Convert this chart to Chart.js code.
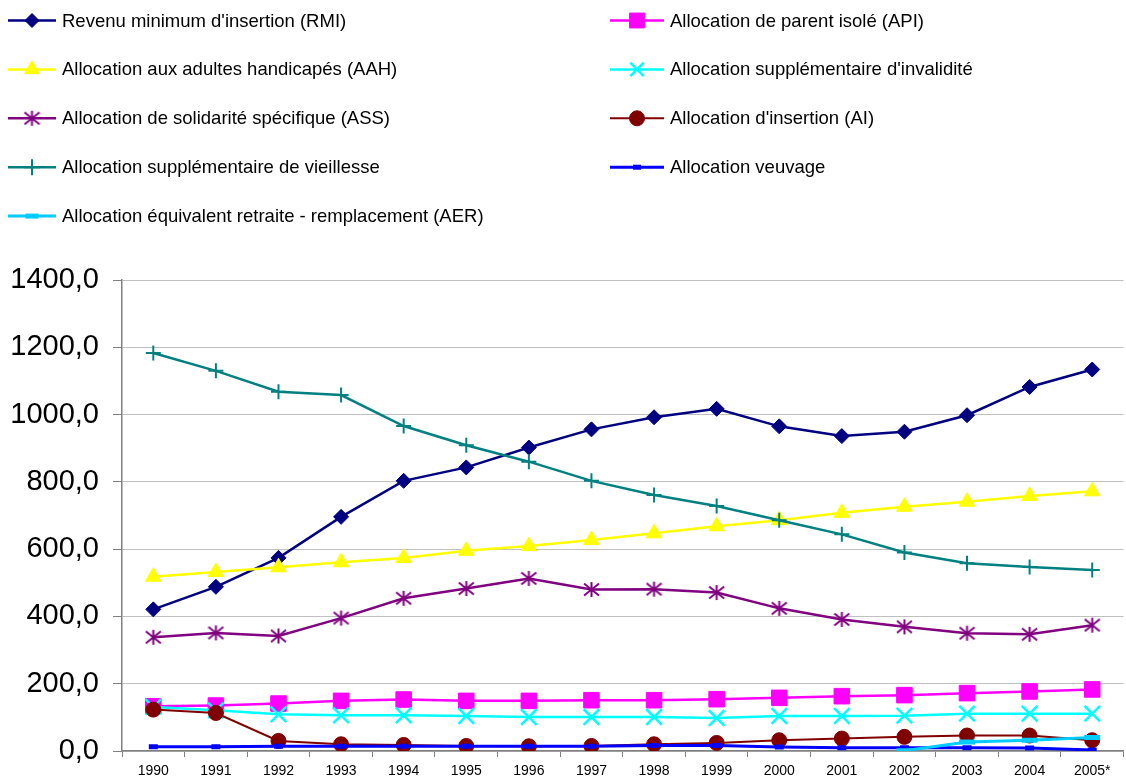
<!DOCTYPE html>
<html>
<head>
<meta charset="utf-8">
<script src="https://cdn.jsdelivr.net/npm/chart.js@4.4.0/dist/chart.umd.min.js"></script>
<style>
  html, body { margin: 0; padding: 0; background: #fff; overflow: hidden; }
  #wrap { width: 1137px; height: 780px; position: relative; }
</style>
</head>
<body>
<div id="wrap"><canvas id="chart"></canvas></div>
<script>
// valeurs (milliers d'allocataires)
const years = ['1990', '1991', '1992', '1993', '1994', '1995', '1996', '1997',
  '1998', '1999', '2000', '2001', '2002', '2003', '2004', '2005*'];
const rmi = [421, 488, 574, 696, 803, 843, 902, 956, 992, 1017, 965, 936, 949, 998, 1082, 1134];
const api = [133, 135, 141, 149, 153, 149, 149, 151, 151, 154, 158, 163, 166, 172, 177, 183];
const aah = [518, 532, 546, 561, 574, 595, 609, 627, 647, 668, 686, 708, 726, 741, 758, 772];
const asi = [131, 121, 109, 106, 106, 104, 101, 101, 101, 98, 104, 104, 105, 111, 111, 111];
const ass = [338, 351, 342, 395, 454, 483, 513, 480, 481, 471, 424, 391, 369, 350, 347, 374];
const ai = [123, 113, 30, 20, 18, 15, 14, 15, 20, 24, 32, 37, 42, 46, 46, 32];
const asv = [1183, 1130, 1068, 1058, 966, 909, 860, 803, 761, 728, 686, 644, 590, 558, 547, 538];
const veuvage = [13, 13, 14, 14, 14, 14, 14, 14, 16, 16, 12, 10, 10, 10, 9, 3];
const aer = [null, null, null, null, null, null, null, null, null, null, null, null, 1, 27, 32, 40];
const yTicks = [0, 200, 400, 600, 800, 1000, 1200, 1400];

// marqueur étoile façon Excel (X + trait vertical)
function makeStar(color, size) {
  const c = document.createElement('canvas');
  c.width = c.height = size;
  const g = c.getContext('2d');
  const m = size / 2, r = size / 2 - 1;
  g.strokeStyle = color;
  g.lineWidth = 2;
  g.beginPath();
  g.moveTo(m - r, m - r * 0.8); g.lineTo(m + r, m + r * 0.8);
  g.moveTo(m + r, m - r * 0.8); g.lineTo(m - r, m + r * 0.8);
  g.moveTo(m, m - r); g.lineTo(m, m + r);
  g.stroke();
  return c;
}

function serie(label, data, color, style, radius, pbw, lw, legendRadius) {
  return {
    label: label,
    data: data,
    borderColor: color,
    backgroundColor: color,
    pointBackgroundColor: color,
    pointBorderColor: color,
    borderWidth: lw,
    pointStyle: style,
    pointRadius: radius,
    pointBorderWidth: pbw,
    legendRadius: legendRadius,
    tension: 0,
    fill: false
  };
}

const datasets = [
  serie('Revenu minimum d\'insertion (RMI)', rmi, '#000080', 'rectRot', 7.5, 1, 2.5, 7),
  serie('Allocation de parent isolé (API)', api, '#FF00FF', 'rect', 11, 1, 2.5, 10.5),
  serie('Allocation aux adultes handicapés (AAH)', aah, '#FFFF00', 'triangle', 9, 1, 2.5, 8.5),
  serie('Allocation supplémentaire d\'invalidité', asi, '#00FFFF', 'crossRot', 11, 2.5, 2.5, 9.5),
  serie('Allocation de solidarité spécifique (ASS)', ass, '#800080', makeStar('#800080', 17), 8, 1, 2.5, 8),
  serie('Allocation d\'insertion (AI)', ai, '#800000', 'circle', 7.5, 1, 2, 7.5),
  serie('Allocation supplémentaire de vieillesse', asv, '#008080', 'cross', 7.5, 2, 2.5, 8),
  serie('Allocation veuvage', veuvage, '#0000FF', 'line', 4.5, 5, 3, 4),
  serie('Allocation équivalent retraite - remplacement (AER)', aer, '#00CCFF', 'line', 8, 5, 3, 6.5)
];
// séries suivantes dessinées par-dessus, comme dans Excel
datasets.forEach((ds, i) => { ds.order = datasets.length - i; });

const legendPlugin = {
  id: 'excelLegend',
  afterDraw(chart) {
    const ctx = chart.ctx;
    ctx.save();
    chart.data.datasets.forEach((ds, i) => {
      const col = i % 2, row = Math.floor(i / 2);
      const x0 = col ? 610 : 8, x1 = col ? 664 : 56;
      const y = 20.5 + row * 48.9;
      ctx.strokeStyle = ds.borderColor;
      ctx.lineWidth = ds.borderWidth;
      ctx.beginPath();
      ctx.moveTo(x0, y);
      ctx.lineTo(x1, y);
      ctx.stroke();
      ctx.fillStyle = ds.pointBackgroundColor;
      ctx.strokeStyle = ds.pointBorderColor;
      ctx.lineWidth = ds.pointBorderWidth;
      Chart.helpers.drawPoint(ctx, {
        pointStyle: ds.pointStyle,
        radius: ds.legendRadius,
        borderWidth: ds.pointBorderWidth,
        rotation: 0
      }, (x0 + x1) / 2, y);
      ctx.fillStyle = '#000';
      ctx.font = '18.5px Arial, "Liberation Sans", sans-serif';
      ctx.textBaseline = 'middle';
      ctx.textAlign = 'left';
      ctx.fillText(ds.label, col ? 670 : 62, y + 1);
    });
    ctx.restore();
  }
};

new Chart(document.getElementById('chart'), {
  type: 'line',
  data: { labels: years, datasets: datasets },
  options: {
    responsive: true,
    maintainAspectRatio: false,
    animation: false,
    events: [],
    layout: { padding: { top: 280, right: 0, bottom: 0, left: 0 } },
    plugins: { legend: { display: false }, tooltip: { enabled: false } },
    scales: {
      x: {
        offset: true,
        afterFit: (scale) => {
          scale.height = 29;
          scale.paddingLeft = 0;
          scale.paddingRight = 0;
        },
        grid: { offset: true, drawOnChartArea: false, drawTicks: true, tickLength: 6, tickColor: '#808080' },
        border: { color: '#808080', width: 1.5 },
        ticks: {
          color: '#000',
          padding: 6,
          maxRotation: 0,
          autoSkip: false,
          font: { family: 'Arial, "Liberation Sans", sans-serif', size: 14 }
        }
      },
      y: {
        min: 0,
        max: 1400,
        afterBuildTicks: (scale) => { scale.ticks = yTicks.map(v => ({ value: v })); },
        afterFit: (scale) => {
          scale.width = 122;
          scale.paddingTop = 0;
          scale.paddingBottom = 0;
        },
        grid: { color: '#C0C0C0', lineWidth: 1, tickLength: 9, tickColor: '#808080' },
        border: { color: '#808080', width: 1.5 },
        ticks: {
          color: '#000',
          padding: 14,
          font: { family: 'Arial, "Liberation Sans", sans-serif', size: 29 },
          callback: (v) => Number(v).toFixed(1).replace('.', ',')
        }
      }
    }
  },
  plugins: [legendPlugin]
});
</script>
</body>
</html>
